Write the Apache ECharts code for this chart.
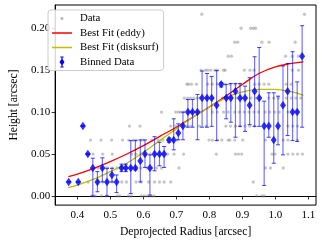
<!DOCTYPE html>
<html><head><meta charset="utf-8">
<script src="https://cdn.jsdelivr.net/npm/echarts@6/dist/echarts.min.js"></script>
<style>html,body{margin:0;padding:0;background:#fff}#c{width:322px;height:243px}</style>
</head><body><div id="c"></div>
<script>
// ---- tick labels ----
const xTicks = [0.4, 0.5, 0.6, 0.7, 0.8, 0.9, 1.0, 1.1];
const yTicks = [0, 0.05, 0.10, 0.15, 0.20];

// ---- raw data: heights are quantized levels; x positions per level ----
const dataLevels = [0, 0.01667, 0.03333, 0.05, 0.06667, 0.08333, 0.1, 0.11667, 0.13333, 0.15, 0.16667, 0.18333, 0.2, 0.21667];
const dataRows = [
  [0.444, 0.454, 0.473, 0.488, 0.521, 0.529, 0.555, 0.563, 0.594, 0.603, 0.613, 0.623, 0.632, 0.944, 0.959, 0.966],
  [0.433, 0.462, 0.477, 0.491, 0.506, 0.535, 0.549, 0.578, 0.593, 0.616, 0.634, 0.649, 0.663, 0.683, 0.933],
  [0.462, 0.477, 0.491, 0.506, 0.520, 0.535, 0.549, 0.564, 0.578, 0.593, 0.611, 0.626, 0.640, 0.655, 0.708, 0.970, 0.985, 1.024],
  [0.433, 0.448, 0.477, 0.506, 0.564, 0.578, 0.593, 0.607, 0.621, 0.640, 0.659, 0.674, 0.693, 0.722, 0.821, 0.879, 0.888, 0.898, 0.990, 0.999, 1.038, 1.053, 1.067, 1.082],
  [0.440, 0.472, 0.504, 0.537, 0.556, 0.569, 0.578, 0.593, 0.601, 0.626, 0.645, 0.659, 0.674, 0.688, 0.703, 0.799, 0.809, 0.824, 0.838, 0.857, 0.862, 0.877, 0.901, 0.970, 1.024, 1.038, 1.067],
  [0.558, 0.590, 0.683, 0.698, 0.717, 0.732, 0.744, 0.770, 0.790, 0.850, 0.864, 0.879, 0.893, 0.908, 0.922, 0.937, 1.038, 1.053, 1.067],
  [0.655, 0.698, 0.706, 0.712, 0.722, 0.737, 0.746, 0.761, 0.770, 0.809, 0.824, 0.843, 0.857, 0.877, 0.891, 0.906, 0.920, 0.935, 0.949, 0.969, 0.983, 0.998, 1.012, 1.038, 1.067],
  [0.724, 0.734, 0.743, 0.753, 0.763, 0.772, 0.792, 0.811, 0.840, 0.854, 0.868, 0.883, 0.897, 0.912, 0.926, 0.941, 0.955, 0.980, 0.995, 1.009, 1.033, 1.048, 1.062, 1.077],
  [0.732, 0.737, 0.746, 0.761, 0.795, 0.809, 0.824, 0.848, 0.862, 0.879, 0.893, 0.937, 0.951, 0.966, 0.980, 1.033, 1.048],
  [0.775, 0.788, 0.795, 0.804, 0.817, 0.824, 0.843, 0.848, 0.906, 0.923, 0.935, 1.051, 1.070],
  [0.857, 0.867, 1.031, 1.051, 1.070],
  [0.877, 0.886, 0.959, 0.981, 1.060],
  [0.896, 0.925, 0.933, 0.940],
  [0.777, 1.088]
];

// ---- binned data ----
const binX = [0.374, 0.403, 0.417, 0.432, 0.447, 0.461, 0.476, 0.490, 0.505, 0.519, 0.534, 0.547, 0.562, 0.576, 0.591, 0.605, 0.620, 0.634, 0.649, 0.663, 0.678, 0.692, 0.706, 0.720, 0.735, 0.749, 0.764, 0.778, 0.793, 0.807, 0.822, 0.836, 0.851, 0.865, 0.879, 0.893, 0.908, 0.922, 0.937, 0.951, 0.966, 0.980, 0.995, 1.008, 1.023, 1.037, 1.052, 1.066, 1.081];
const binY = [0.0167, 0.0167, 0.0833, 0.05, 0.0333, 0.0167, 0.0333, 0.0167, 0.025, 0.0167, 0.0333, 0.0333, 0.0333, 0.0333, 0.0417, 0.05, 0.0333, 0.05, 0.05, 0.05, 0.0667, 0.0667, 0.075, 0.0833, 0.1, 0.1, 0.1, 0.1167, 0.1167, 0.1167, 0.1083, 0.1333, 0.1167, 0.1167, 0.125, 0.1167, 0.1167, 0.1083, 0.125, 0.1167, 0.0833, 0.0833, 0.0667, 0.0833, 0.1083, 0.125, 0.1, 0.1, 0.1667];
const binLow = [0.0167, 0.0167, 0.0833, 0.05, 0.0, 0.005, 0.0167, 0.0, 0.0167, 0.004, 0.029, 0.029, 0.003, 0.031, 0.0167, 0.034, 0.001, 0.030, 0.036, 0.034, 0.064, 0.055, 0.067, 0.067, 0.082, 0.082, 0.067, 0.082, 0.082, 0.083, 0.066, 0.130, 0.092, 0.088, 0.070, 0.083, 0.077, 0.085, 0.083, 0.083, 0.0125, 0.070, 0.039, 0.061, 0.049, 0.072, 0.066, 0.065, 0.082];
const binHigh = [0.0167, 0.0167, 0.0833, 0.05, 0.045, 0.029, 0.0455, 0.033, 0.033, 0.025, 0.038, 0.038, 0.066, 0.066, 0.0668, 0.0668, 0.049, 0.0707, 0.064, 0.059, 0.069, 0.092, 0.086, 0.1, 0.115, 0.115, 0.121, 0.149, 0.146, 0.1425, 0.1495, 0.135, 0.133, 0.134, 0.134, 0.134, 0.131, 0.141, 0.166, 0.177, 0.113, 0.123, 0.123, 0.119, 0.155, 0.158, 0.172, 0.136, 0.203];

// ---- best fit curves ----
const fitX = [0.373, 0.40, 0.45, 0.50, 0.55, 0.60, 0.65, 0.70, 0.75, 0.80, 0.85, 0.90, 0.95, 1.00, 1.05, 1.085];
const eddyY = [0.023, 0.026, 0.033, 0.041, 0.050, 0.060, 0.071, 0.082, 0.094, 0.106, 0.119, 0.133, 0.146, 0.154, 0.158, 0.160];
const disksurfY = [0.010, 0.013, 0.020, 0.029, 0.039, 0.052, 0.066, 0.080, 0.094, 0.106, 0.117, 0.124, 0.127, 0.127, 0.124, 0.120];

// ---- build series data ----
const scatterData = [];
dataRows.forEach((row, i) => row.forEach(x => scatterData.push([x, dataLevels[i]])));
const binPts = binX.map((x, i) => [x, binY[i]]);
const errData = binX.map((x, i) => [x, binLow[i], binHigh[i]]);
const eddyData = fitX.map((x, i) => [x, eddyY[i]]);
const dsData = fitX.map((x, i) => [x, disksurfY[i]]);

const FONT = 'Liberation Serif';
const chart = echarts.init(document.getElementById('c'), null, {renderer: 'canvas'});
const box = 'M0,0h0.01v0.01h-0.01z M20,12h0.01v0.01h-0.01z ';
chart.setOption({
  animation: false,
  backgroundColor: '#fff',
  grid: {left: 43, right: 6, top: 5, bottom: 35, show: true, borderColor: '#000', borderWidth: 1, backgroundColor: 'transparent'},
  xAxis: {
    type: 'value', min: 0.333, max: 1.123,
    name: 'Deprojected Radius [arcsec]', nameLocation: 'middle', nameGap: 17,
    nameTextStyle: {fontFamily: FONT, fontSize: 11.6, color: '#000'},
    axisLine: {show: true, lineStyle: {color: '#000', width: 1}},
    axisTick: {show: true, customValues: xTicks, length: 3.5, lineStyle: {color: '#000', width: 0.8}},
    axisLabel: {customValues: xTicks, margin: 5, fontFamily: FONT, fontSize: 11, color: '#000', formatter: v => v.toFixed(1)},
    splitLine: {show: false}
  },
  yAxis: {
    type: 'value', min: -0.0109, max: 0.2277,
    name: 'Height [arcsec]', nameLocation: 'middle', nameGap: 28, nameRotate: 90,
    nameTextStyle: {fontFamily: FONT, fontSize: 11.6, color: '#000'},
    axisLine: {show: true, lineStyle: {color: '#000', width: 1}},
    axisTick: {show: true, customValues: yTicks, length: 3.5, lineStyle: {color: '#000', width: 0.8}},
    axisLabel: {customValues: yTicks, margin: 5, fontFamily: FONT, fontSize: 11, color: '#000', formatter: v => v.toFixed(2)},
    splitLine: {show: false}
  },
  legend: {
    orient: 'vertical', left: 48, top: 10, padding: [2.5, 5, 2.5, 4],
    itemWidth: 20, itemHeight: 12, itemGap: 2.5,
    backgroundColor: 'rgba(255,255,255,0.85)', borderColor: '#cccccc', borderWidth: 1, borderRadius: 3,
    textStyle: {fontFamily: FONT, fontSize: 10.8, color: '#000', padding: [0, 0, 0, 3]},
    selectedMode: false,
    data: [
      {name: 'Data', icon: 'path://' + box + 'M8.5,6a1.5,1.5 0 1,0 3,0a1.5,1.5 0 1,0 -3,0z', itemStyle: {color: 'rgba(128,128,128,0.7)'}},
      {name: 'Best Fit (eddy)', icon: 'path://' + box + 'M0,5.35h20v1.3h-20z', itemStyle: {color: '#ff0000'}},
      {name: 'Best Fit (disksurf)', icon: 'path://' + box + 'M0,5.35h20v1.3h-20z', itemStyle: {color: '#bfbf00'}},
      {name: 'Binned Data', icon: 'path://' + box + 'M9.4,1h1.2v10h-1.2z M8.4,0.5h3.2v1h-3.2z M8.4,10.5h3.2v1h-3.2z M10,2.2L12.5,6L10,9.8L7.5,6z', itemStyle: {color: '#0000ff'}}
    ]
  },
  series: [
    {
      name: 'Data', type: 'scatter', data: scatterData, symbol: 'circle', symbolSize: 3.3,
      itemStyle: {color: 'rgba(128,128,128,0.55)'}, z: 1, silent: true
    },
    {
      name: 'Best Fit (eddy)', type: 'line', data: eddyData, smooth: 0.4, showSymbol: false, symbol: 'none',
      lineStyle: {color: '#ff0000', width: 1.3}, itemStyle: {color: '#ff0000'}, z: 2
    },
    {
      name: 'Best Fit (disksurf)', type: 'line', data: dsData, smooth: 0.4, showSymbol: false, symbol: 'none',
      lineStyle: {color: '#bfbf00', width: 1.3}, itemStyle: {color: '#bfbf00'}, z: 3
    },
    {
      name: 'Binned Data', type: 'custom', data: errData, z: 4,
      encode: {x: 0, y: [1, 2]},
      itemStyle: {color: '#0000ff'},
      renderItem: function (params, api) {
        const x = api.value(0), lo = api.value(1), hi = api.value(2);
        const p1 = api.coord([x, hi]), p2 = api.coord([x, lo]);
        const cw = 2;
        const bar = {stroke: 'rgba(0,0,255,0.55)', lineWidth: 1.2};
        const cap = {stroke: 'rgba(0,0,255,0.75)', lineWidth: 1};
        return {type: 'group', children: [
          {type: 'line', shape: {x1: p1[0], y1: p1[1], x2: p2[0], y2: p2[1]}, style: bar},
          {type: 'line', shape: {x1: p1[0] - cw, y1: p1[1], x2: p1[0] + cw, y2: p1[1]}, style: cap},
          {type: 'line', shape: {x1: p2[0] - cw, y1: p2[1], x2: p2[0] + cw, y2: p2[1]}, style: cap}
        ]};
      }
    },
    {
      name: 'Binned Data', type: 'scatter', data: binPts, symbol: 'diamond', symbolSize: [6, 8.5],
      itemStyle: {color: '#0000ff'}, z: 5
    }
  ]
});
</script></body></html>
